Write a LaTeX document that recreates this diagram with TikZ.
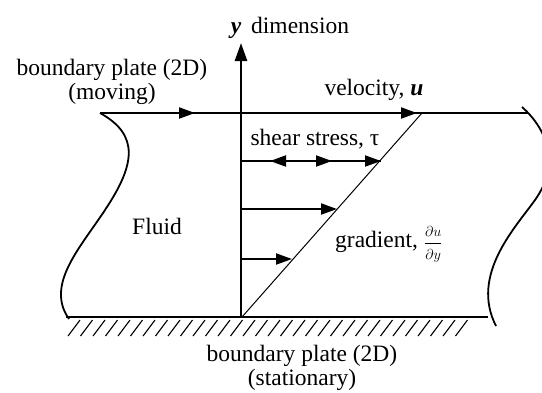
\documentclass[tikz,border=0pt]{standalone}
\usepackage{fontspec}
\setmainfont{Liberation Serif}
\usetikzlibrary{arrows.meta}
\begin{document}
\begin{tikzpicture}[x=1pt,y=-1pt,
  plate/.style={line width=2.6pt},
  curveline/.style={line width=1.8pt},
  thinline/.style={line width=1pt},
  hatchline/.style={line width=1.1pt},
  flowarr/.style={line width=2pt,-{Triangle[length=16pt,width=11pt]}},
  axisarr/.style={line width=2.6pt,-{Triangle[length=18pt,width=12pt]}},
  lbl/.style={font=\fontsize{23.5}{24}\selectfont, inner sep=0pt, align=center}
]
\useasboundingbox (0,0) rectangle (542,392);
\clip (0,0) rectangle (542,392);
% key points
\coordinate (TL) at (100,113);
\coordinate (TR) at (528,113);
\coordinate (BL) at (66,317);
\coordinate (BR) at (488,317);
\coordinate (O)  at (241,317);
\coordinate (Ytip) at (241,43);
\coordinate (D0) at (242,317);
\coordinate (D1) at (422,113);
\coordinate (A1) at (195,113);
\coordinate (A2) at (417,113);
\coordinate (R1s) at (241,161);
\coordinate (R1e) at (381,161);
\coordinate (R2s) at (241,209);
\coordinate (R2e) at (337,209);
\coordinate (R3s) at (241,259);
\coordinate (R3e) at (292,259);

% top (moving) plate
\draw[plate] (TL) -- (TR);
\draw[flowarr] (150,113) -- (A1);
\draw[flowarr] (380,113) -- (A2);

% bottom (stationary) plate
\draw[plate] (BL) -- (BR);
\foreach \i in {0,...,31}
  \draw[hatchline] ({68+12.5*\i},336) -- ({80+12.5*\i},320);

% wavy fluid boundaries
\draw[curveline] (TL) .. controls (140,135) and (135,165) .. (105,210)
                      .. controls (80,248) and (45,285) .. (69,319);
\draw[curveline] (522,107) .. controls (548,130) and (560,165) .. (535,200)
                      .. controls (515,228) and (470,275) .. (496,326);

% y axis
\draw[axisarr] (O) -- (Ytip);

% velocity gradient line
\draw[thinline] (D0) -- (D1);

% velocity profile arrows
\draw[line width=2pt] (R1s) -- (R1e);
\draw[flowarr] (292,161) -- (270,161);
\draw[flowarr] (300,161) -- (332,161);
\draw[flowarr] (345,161) -- (R1e);
\draw[flowarr] (R2s) -- (R2e);
\draw[flowarr] (R3s) -- (R3e);

% labels
\node[lbl, anchor=base] (ydim) at (290,33) {\textbf{\textit{y}}\, dimension};
\node[lbl] (moving) at (112,82) {boundary plate (2D)\\(moving)};
\node[lbl, anchor=base] (vel) at (374,95) {velocity, \textbf{\textit{u}}};
\node[lbl, anchor=base] (shear) at (315,145) {shear stress, τ};
\node[lbl, anchor=base] (fluid) at (157,234) {Fluid};
\node[lbl, anchor=base west] (grad) at (335,247) {gradient, {\fontsize{15}{17}\selectfont$\displaystyle\frac{\partial u\rule[-6pt]{0pt}{6pt}}{\rule{0pt}{15pt}\partial y}$}};
\node[lbl] (stat) at (302,368) {boundary plate (2D)\\(stationary)};
\end{tikzpicture}
\end{document}
